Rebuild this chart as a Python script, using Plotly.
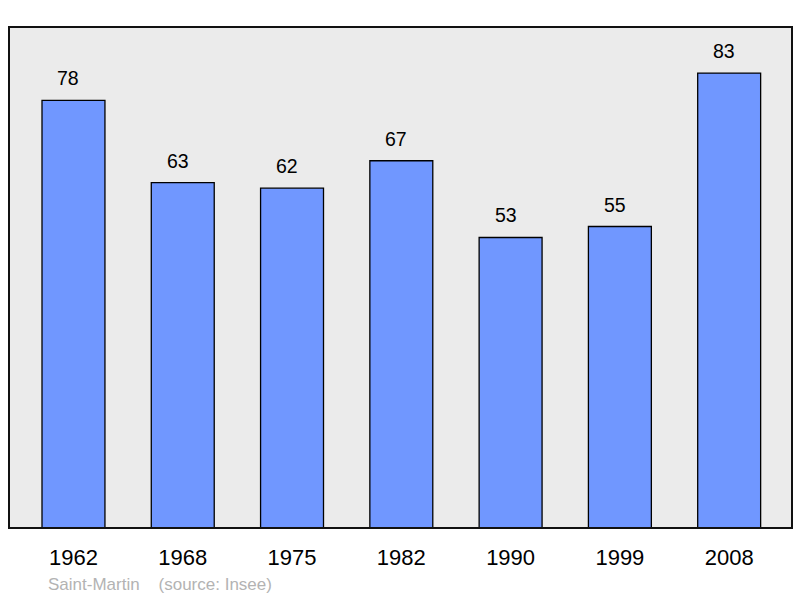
import plotly.graph_objects as go

years = ["1962", "1968", "1975", "1982", "1990", "1999", "2008"]
population = [78, 63, 62, 67, 53, 55, 83]

FONT = "Liberation Sans, Arial, sans-serif"

fig = go.Figure()
fig.add_trace(go.Bar(
    x=list(range(len(years))), y=population,
    width=0.576,
    marker=dict(color="#7097ff", line=dict(color="#000000", width=1.3)),
    hoverinfo="skip",
))

for i, v in enumerate(population):
    fig.add_annotation(x=i, y=v, text=str(v), showarrow=False, yanchor="middle",
                       yshift=22, xshift=-5, font=dict(family=FONT, size=19.5, color="#000"))

fig.add_shape(type="rect", xref="paper", yref="paper", x0=0, y0=0, x1=1, y1=1,
              line=dict(color="#111111", width=2), fillcolor="rgba(0,0,0,0)", layer="above")

fig.add_annotation(xref="paper", yref="paper", x=0.047, y=-0.112, xanchor="left", yanchor="middle",
                   text="Saint-Martin&nbsp;&nbsp;&nbsp;&nbsp;(source: Insee)", showarrow=False,
                   font=dict(family=FONT, size=17, color="#b3b3b3"))

fig.update_layout(
    width=800, height=598,
    margin=dict(l=9, r=8, t=27, b=70),
    paper_bgcolor="#ffffff", plot_bgcolor="#ebebeb",
    showlegend=False,
    xaxis=dict(range=[-0.59, 6.575], tickmode="array", tickvals=list(range(len(years))),
               ticktext=years, showgrid=False, zeroline=False, showline=False,
               tickfont=dict(family=FONT, size=22, color="#000"),
               ticks="", ticklabelstandoff=14),
    yaxis=dict(range=[0, 91.4], visible=False, showgrid=False, zeroline=False),
)

fig.write_html("out.html", config={"displayModeBar": False},
               post_script="document.body.style.margin='0px';")
